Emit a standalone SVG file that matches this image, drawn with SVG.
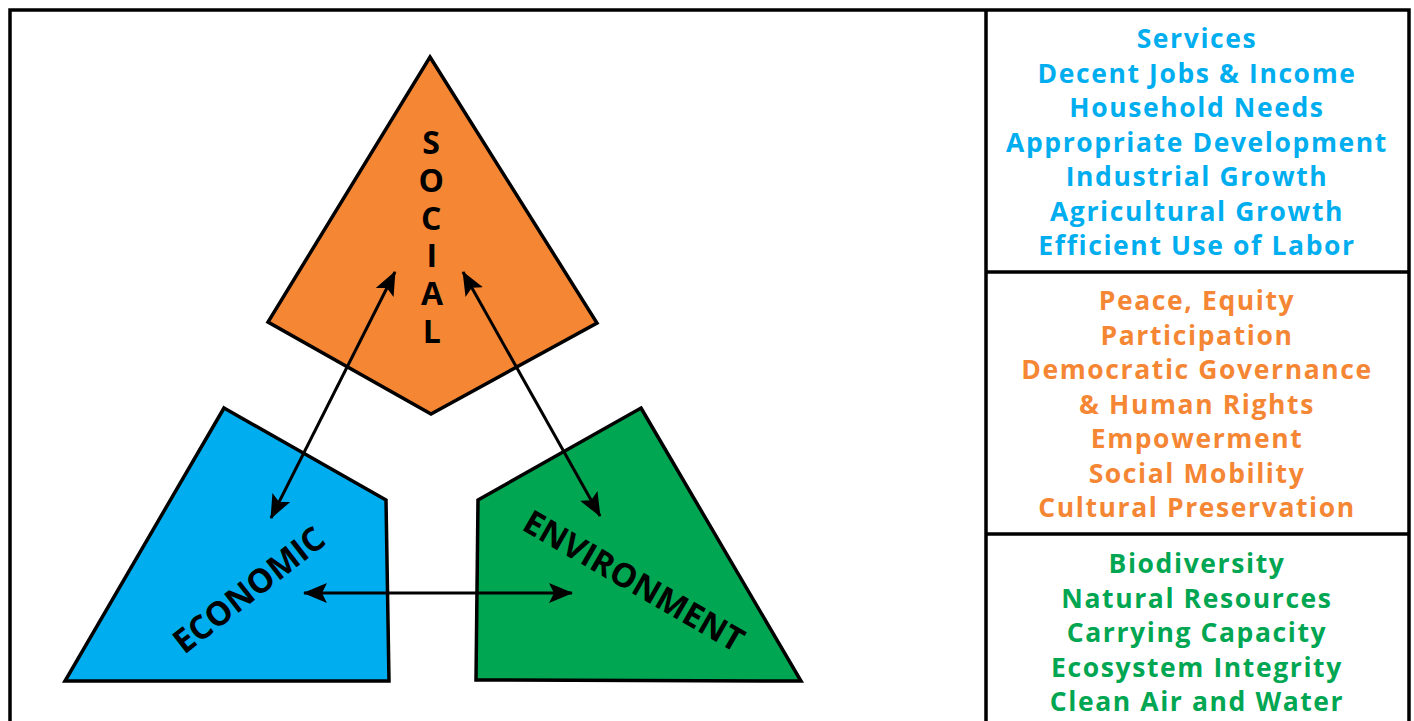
<svg xmlns="http://www.w3.org/2000/svg" width="1414" height="721" viewBox="0 0 1414 721">
<defs>
<marker id="ah" viewBox="0 0 24 20" refX="23" refY="10" markerWidth="24" markerHeight="20" markerUnits="userSpaceOnUse" orient="auto-start-reverse">
<path d="M0,0 L24,10 L0,20 L5,10 z" fill="#000"/>
</marker>
<style>
.shape{stroke:#000;stroke-width:3.5;stroke-linejoin:miter}
.lbl{font-family:"Open Sans","DejaVu Sans",sans-serif;font-weight:700;font-size:32px;fill:#000;text-anchor:middle}
.vert{writing-mode:vertical-rl;text-orientation:upright;text-anchor:start}
.lst{font-family:"Open Sans","DejaVu Sans",sans-serif;font-weight:700;font-size:26.5px;text-anchor:middle;letter-spacing:1.6px}
.blue{fill:#00AEEF}.orange{fill:#F58634}.green{fill:#00A651}
.frame{fill:none;stroke:#000;stroke-width:3.5}
.conn{stroke:#000;stroke-width:3;fill:none}
</style>
</defs>
<rect width="1414" height="721" fill="#fff"/>
<g id="frame">
<path class="frame" d="M10,725 V10 H1409 V725"/>
<path class="frame" d="M986,10 V725 M986,272 H1409 M986,534 H1409"/>
</g>
<g id="social">
<polygon class="shape" fill="#F58734" points="430,57 597,323 431,414 268,322"/>
<text class="lbl vert" x="431" y="120" style="letter-spacing:-5.2px">SOCIAL</text>
</g>
<g id="economic">
<polygon class="shape" fill="#00AEEF" points="224,408 386,500 389,681 65,681"/>
<text class="lbl" transform="translate(256,599) rotate(-38)" x="0" y="0" style="font-size:33px">ECONOMIC</text>
</g>
<g id="environment">
<polygon class="shape" fill="#00A651" points="641,408 801,681 476,680 478,500"/>
<text class="lbl" transform="translate(628,591) rotate(30)" x="0" y="0" style="font-size:33px">ENVIRONMENT</text>
</g>
<g id="connectors">
<line class="conn" x1="271" y1="518" x2="395" y2="272" marker-start="url(#ah)" marker-end="url(#ah)"/>
<line class="conn" x1="600" y1="516" x2="463" y2="272" marker-start="url(#ah)" marker-end="url(#ah)"/>
<line class="conn" x1="304" y1="593" x2="572" y2="593" marker-start="url(#ah)" marker-end="url(#ah)"/>
</g>
<g id="economic-list">
<text class="lst blue" x="1197" y="48">Services</text>
<text class="lst blue" x="1197" y="82.5">Decent Jobs &amp; Income</text>
<text class="lst blue" x="1197" y="117">Household Needs</text>
<text class="lst blue" x="1197" y="151.5">Appropriate Development</text>
<text class="lst blue" x="1197" y="186">Industrial Growth</text>
<text class="lst blue" x="1197" y="220.5">Agricultural Growth</text>
<text class="lst blue" x="1197" y="255">Efficient Use of Labor</text>
</g>
<g id="social-list">
<text class="lst orange" x="1197" y="310">Peace, Equity</text>
<text class="lst orange" x="1197" y="344.5">Participation</text>
<text class="lst orange" x="1197" y="379">Democratic Governance</text>
<text class="lst orange" x="1197" y="413.5">&amp; Human Rights</text>
<text class="lst orange" x="1197" y="448">Empowerment</text>
<text class="lst orange" x="1197" y="482.5">Social Mobility</text>
<text class="lst orange" x="1197" y="517">Cultural Preservation</text>
</g>
<g id="environment-list">
<text class="lst green" x="1197" y="573">Biodiversity</text>
<text class="lst green" x="1197" y="607.5">Natural Resources</text>
<text class="lst green" x="1197" y="642">Carrying Capacity</text>
<text class="lst green" x="1197" y="676.5">Ecosystem Integrity</text>
<text class="lst green" x="1197" y="711">Clean Air and Water</text>
</g>
</svg>
